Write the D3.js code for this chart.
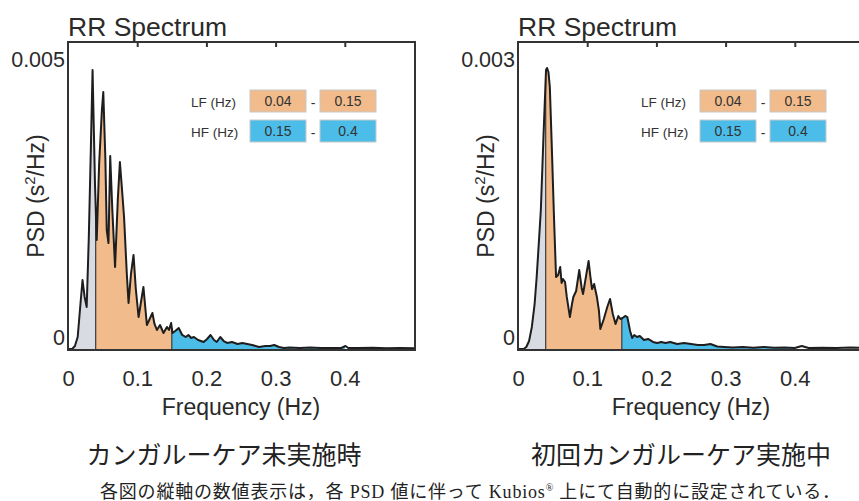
<!DOCTYPE html>
<html>
<head>
<meta charset="utf-8">
<script src="https://cdn.jsdelivr.net/npm/d3@7"></script>
<style>
  body { margin: 0; background: #fff; }
  svg { display: block; font-family: "Liberation Sans", Arial, sans-serif; }
</style>
</head>
<body>
<div id="chart"></div>
<script>
// spectrum: frequency (Hz) and PSD (s^2/Hz)
const leftFreq = [0, 0.006, 0.010, 0.014, 0.018, 0.021, 0.024, 0.027, 0.030, 0.033, 0.0355, 0.039, 0.0415, 0.045, 0.049, 0.051,
  0.054, 0.056, 0.0585, 0.061, 0.064, 0.068, 0.072, 0.075, 0.078, 0.081, 0.085, 0.0875, 0.091, 0.0947, 0.098, 0.102,
  0.105, 0.109, 0.114, 0.118, 0.122, 0.125, 0.1285, 0.133, 0.138, 0.143, 0.146, 0.149, 0.151, 0.155, 0.160, 0.165,
  0.170, 0.174, 0.178, 0.182, 0.188, 0.196, 0.201, 0.206, 0.211, 0.215, 0.220, 0.225, 0.230, 0.237, 0.245, 0.252,
  0.259, 0.266, 0.276, 0.285, 0.292, 0.298, 0.305, 0.312, 0.320, 0.335, 0.350, 0.365, 0.380, 0.395, 0.401, 0.405,
  0.420, 0.440, 0.460, 0.480, 0.500];
const leftPsd = [0, 0, 0.000052, 0.000207, 0.000777, 0.001191, 0.000898, 0.000725, 0.001899, 0.003453, 0.004817, 0.002849, 0.001882, 0.003194, 0.004126, 0.004437,
  0.003280, 0.002054, 0.001830, 0.003332, 0.002417, 0.001416, 0.002590, 0.003228, 0.002762, 0.002279, 0.001295, 0.000794, 0.001295, 0.001623, 0.001036, 0.000552,
  0.000777, 0.001070, 0.000414, 0.000518, 0.000622, 0.000432, 0.000328, 0.000414, 0.000276, 0.000380, 0.000328, 0.000449, 0.000276, 0.000311, 0.000363, 0.000242,
  0.000207, 0.000242, 0.000190, 0.000207, 0.000155, 0.000121, 0.000173, 0.000242, 0.000155, 0.000121, 0.000207, 0.000138, 0.000104, 0.000121, 0.000086, 0.000104,
  0.000086, 0.000069, 0.000035, 0.000052, 0.000052, 0.000069, 0.000035, 0.000017, 0.000026, 0.000017, 0.000026, 0.000017, 0.000017, 0.000017, 0.000052, 0.000017,
  0.000017, 0.000022, 0.000014, 0.000017, 0.000014];

const rightFreq = [0, 0.008, 0.012, 0.016, 0.020, 0.024, 0.027, 0.030, 0.033, 0.037, 0.0405, 0.042, 0.044, 0.046, 0.049, 0.052,
  0.055, 0.058, 0.061, 0.063, 0.065, 0.068, 0.0705, 0.075, 0.078, 0.080, 0.084, 0.0885, 0.092, 0.094, 0.102, 0.105,
  0.107, 0.110, 0.114, 0.117, 0.119, 0.124, 0.129, 0.133, 0.137, 0.141, 0.145, 0.148, 0.151, 0.155, 0.158, 0.162,
  0.165, 0.168, 0.172, 0.176, 0.182, 0.188, 0.195, 0.201, 0.207, 0.213, 0.220, 0.230, 0.240, 0.250, 0.260, 0.269,
  0.278, 0.288, 0.298, 0.310, 0.325, 0.340, 0.355, 0.370, 0.385, 0.400, 0.410, 0.420, 0.440, 0.460, 0.480, 0.500];
const rightPsd = [0, 0, 0.0000207, 0.0000829, 0.000228, 0.000466, 0.000746, 0.001088, 0.001440, 0.002237, 0.002890, 0.002911, 0.002869, 0.002714, 0.002061, 0.001367,
  0.000746, 0.000767, 0.000849, 0.000684, 0.000725, 0.000694, 0.000539, 0.000331, 0.000466, 0.000539, 0.000601, 0.000818, 0.000632, 0.000570, 0.000912, 0.000725,
  0.000621, 0.000673, 0.000539, 0.000394, 0.000207, 0.000311, 0.000435, 0.000518, 0.000363, 0.000259, 0.000342, 0.000311, 0.000321, 0.000342, 0.000331, 0.000186,
  0.000114, 0.000145, 0.000124, 0.000135, 0.000093, 0.000104, 0.000073, 0.000062, 0.000073, 0.000062, 0.000073, 0.000052, 0.000062, 0.000052, 0.000041, 0.000041,
  0.000052, 0.000026, 0.000021, 0.000016, 0.000021, 0.000012, 0.000021, 0.000013, 0.000016, 0.000010, 0.000031, 0.000010, 0.000013, 0.000010, 0.000016, 0.000010];

const xTicks = [0, 0.1, 0.2, 0.3, 0.4];
const leftYTicks = [0, 0.005];
const rightYTicks = [0, 0.003];
const bandNames = ["LF (Hz)", "HF (Hz)"];
const bandLow = [0.04, 0.15];
const bandHigh = [0.15, 0.4];
const bandColors = ["#f1bb8b", "#4cbde8"];
const vlfColor = "#d9dbe2";
const captions = ["カンガルーケア未実施時", "初回カンガルーケア実施中"];
const note = "各図の縦軸の数値表示は，各 PSD 値に伴って Kubios";
const noteTail = " 上にて自動的に設定されている．";

const W = 859, H = 501;
const plotTop = 42, base = 349;
const panels = [
  { x0: 68, yMax: 0.0053, yTicks: leftYTicks, freq: leftFreq, psd: leftPsd, caption: captions[0], capX: 224 },
  { x0: 518, yMax: 0.00318, yTicks: rightYTicks, freq: rightFreq, psd: rightPsd, caption: captions[1], capX: 681 }
];

const svg = d3.select("#chart").append("svg").attr("width", W).attr("height", H);
const ink = "#2a2a2a";

panels.forEach((p, pi) => {
  const g = svg.append("g");
  const x = d3.scaleLinear().domain([0, 0.5]).range([p.x0, p.x0 + 346]);
  const y = d3.scaleLinear().domain([0, p.yMax]).range([base, plotTop]);
  const pts = p.freq.map((f, i) => [f, p.psd[i]]);

  const area = d3.area().x(d => x(d[0])).y0(base).y1(d => y(d[1]));
  const line = d3.line().x(d => x(d[0])).y(d => y(d[1]));

  const bands = [[0, bandLow[0], vlfColor], [bandLow[0], bandHigh[0], bandColors[0]], [bandLow[1], bandHigh[1], bandColors[1]]];
  bands.forEach((b, bi) => {
    const id = `clip-${pi}-${bi}`;
    svg.append("clipPath").attr("id", id).append("rect")
      .attr("x", x(b[0])).attr("y", plotTop).attr("width", x(b[1]) - x(b[0])).attr("height", base - plotTop + 1);
    g.append("path").datum(pts).attr("d", area).attr("fill", b[2]).attr("clip-path", `url(#${id})`);
  });

  // band edges
  const valueAt = f => {
    const i = d3.bisector(d => d[0]).right(pts, f);
    const a = pts[i - 1], b = pts[i];
    return a[1] + (b[1] - a[1]) * (f - a[0]) / (b[0] - a[0]);
  };
  [bandLow[0], bandLow[1]].forEach(f => {
    g.append("line").attr("x1", x(f)).attr("x2", x(f)).attr("y1", base).attr("y2", y(valueAt(f)))
      .attr("stroke", "#3a3a3a").attr("stroke-width", 1.2);
  });

  g.append("path").datum(pts).attr("d", line).attr("fill", "none")
    .attr("stroke", "#1e1e1e").attr("stroke-width", 2).attr("stroke-linejoin", "round");

  // frame
  g.append("rect").attr("x", x(0)).attr("y", plotTop).attr("width", x(0.5) - x(0) + 1).attr("height", base + 1 - plotTop)
    .attr("fill", "none").attr("stroke", "#333").attr("stroke-width", 2);

  // top inner ticks
  const topAxis = g.append("g").attr("transform", `translate(0,${plotTop})`)
    .call(d3.axisTop(x).tickValues(xTicks.slice(1)).tickSize(-5).tickFormat(""));
  topAxis.select(".domain").remove();
  topAxis.selectAll("line").attr("stroke", "#333").attr("stroke-width", 2);

  const xAxis = g.append("g").attr("transform", `translate(0,${base + 1})`)
    .call(d3.axisBottom(x).tickValues(xTicks).tickSize(0).tickPadding(20).tickFormat(d => d === 0 ? "0" : d3.format(".1f")(d)));
  xAxis.select(".domain").remove();
  xAxis.attr("font-family", null);
  xAxis.selectAll("text").attr("font-size", 22).attr("fill", ink);

  const yAxis = g.append("g").attr("transform", `translate(${x(0) - 2},0)`)
    .call(d3.axisLeft(y).tickValues(p.yTicks).tickSize(0).tickPadding(1).tickFormat(d => d === 0 ? "0" : d3.format(".3f")(d)));
  yAxis.select(".domain").remove();
  yAxis.attr("font-family", null);
  yAxis.selectAll("text").attr("font-size", 21.5).attr("fill", ink)
    .attr("dy", d => d === 0 ? "-0.2em" : "0.32em");

  g.append("text").attr("x", x(0)).attr("y", 36).attr("font-size", 26.5).attr("fill", ink).text("RR Spectrum");

  g.append("text").attr("x", x(0.25)).attr("y", 415).attr("text-anchor", "middle")
    .attr("font-size", 23).attr("fill", ink).text("Frequency (Hz)");

  const yl = g.append("text").attr("transform", `translate(${x(0) - 24},196) rotate(-90)`)
    .attr("text-anchor", "middle").attr("font-size", 23).attr("fill", ink);
  yl.append("tspan").text("PSD (s");
  yl.append("tspan").attr("dy", -9).attr("font-size", 15).text("2");
  yl.append("tspan").attr("dy", 9).text("/Hz)");

  // band legend
  bandNames.forEach((name, i) => {
    const ry = 90 + i * 30;
    g.append("text").attr("x", x(0) + 123).attr("y", ry + 17).attr("font-size", 13.5).attr("fill", "#333").text(name);
    [bandLow[i], bandHigh[i]].forEach((v, j) => {
      const bx = x(0) + 182 + j * 70;
      g.append("rect").attr("x", bx).attr("y", ry).attr("width", 56).attr("height", 22)
        .attr("fill", bandColors[i]).attr("stroke", "#c8c8c8").attr("stroke-width", 1);
      g.append("text").attr("x", bx + 28).attr("y", ry + 16).attr("text-anchor", "middle")
        .attr("font-size", 14).attr("fill", "#333").text(v);
    });
    g.append("text").attr("x", x(0) + 245).attr("y", ry + 18).attr("text-anchor", "middle")
      .attr("font-size", 14).attr("fill", "#333").text("-");
  });

  svg.append("text").attr("x", p.capX).attr("y", 464).attr("text-anchor", "middle")
    .attr("font-family", "'Noto Sans CJK JP', sans-serif").attr("font-size", 25).attr("fill", "#222")
    .text(p.caption);
});

const nt = svg.append("text").attr("x", 100).attr("y", 498)
  .attr("font-family", "'Liberation Serif', 'Noto Sans CJK JP', serif").attr("font-size", 18)
  .attr("letter-spacing", 0.8).attr("fill", "#222");
nt.append("tspan").text(note);
nt.append("tspan").attr("dy", -7).attr("font-size", 10).text("®");
nt.append("tspan").attr("dy", 7).text(noteTail);
</script>
</body>
</html>
